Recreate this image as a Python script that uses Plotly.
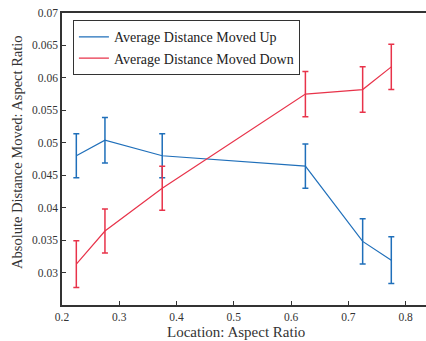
import plotly.graph_objects as go

x_vals = [0.225, 0.275, 0.375, 0.625, 0.725, 0.775]
up_mean = [0.0480, 0.0504, 0.0480, 0.0464, 0.0348, 0.0319]
up_err = [0.0034, 0.0035, 0.0034, 0.0034, 0.0035, 0.0036]
down_mean = [0.0313, 0.0364, 0.0430, 0.0575, 0.0582, 0.0617]
down_err = [0.0036, 0.0034, 0.0034, 0.0035, 0.0035, 0.0035]
x_ticks = [0.2, 0.3, 0.4, 0.5, 0.6, 0.7, 0.8]
x_tick_text = ["0.2", "0.3", "0.4", "0.5", "0.6", "0.7", "0.8"]
y_ticks = [0.03, 0.035, 0.04, 0.045, 0.05, 0.055, 0.06, 0.065, 0.07]
y_tick_text = ["0.03", "0.035", "0.04", "0.045", "0.05", "0.055", "0.06", "0.065", "0.07"]
x_title = "Location: Aspect Ratio"
y_title = "Absolute Distance Moved: Aspect Ratio"

blue = "#1f6fba"
red = "#e8334a"
font_family = "Liberation Serif, Times New Roman, serif"

fig = go.Figure()
fig.add_trace(go.Scatter(
    x=x_vals, y=up_mean, mode="lines", name="Average Distance Moved Up",
    line=dict(color=blue, width=1.2),
    error_y=dict(type="data", array=up_err, visible=True, color=blue, thickness=1.5, width=3),
))
fig.add_trace(go.Scatter(
    x=x_vals, y=down_mean, mode="lines", name="Average Distance Moved Down",
    line=dict(color=red, width=1.2),
    error_y=dict(type="data", array=down_err, visible=True, color=red, thickness=1.5, width=3),
))

fig.update_layout(
    width=426, height=341,
    margin=dict(l=62, r=0, t=13, b=36),
    paper_bgcolor="white", plot_bgcolor="white",
    font=dict(family=font_family, color="#333333"),
    showlegend=True,
    legend=dict(
        x=0.03, y=0.975, xanchor="left", yanchor="top",
        bgcolor="white", bordercolor="#333333", borderwidth=1,
        font=dict(size=14, family=font_family, color="#222222"),
        itemwidth=30, tracegroupgap=0,
    ),
    xaxis=dict(
        range=[0.2, 0.8356], tickvals=x_ticks, ticktext=x_tick_text,
        ticks="inside", ticklen=4, tickcolor="#333333",
        showline=True, linecolor="#333333", linewidth=1.5, mirror=True,
        showgrid=False, zeroline=False,
        tickfont=dict(size=11.5, family=font_family, color="#333333"),
    ),
    yaxis=dict(
        range=[0.025, 0.07], tickvals=y_ticks, ticktext=y_tick_text,
        ticks="inside", ticklen=4, tickcolor="#333333",
        showline=True, linecolor="#333333", linewidth=1.5,
        showgrid=False, zeroline=False,
        tickfont=dict(size=11.5, family=font_family, color="#333333"),
    ),
    annotations=[
        dict(text=x_title, xref="paper", yref="paper", x=0.478, y=-0.094,
             xanchor="center", yanchor="middle", showarrow=False,
             font=dict(size=15, family=font_family, color="#333333")),
        dict(text=y_title, xref="paper", yref="paper", x=-0.1223, y=0.5257,
             xanchor="center", yanchor="middle", textangle=-90, showarrow=False,
             font=dict(size=14.5, family=font_family, color="#333333")),
    ],
)

fig.write_html("out.html")
